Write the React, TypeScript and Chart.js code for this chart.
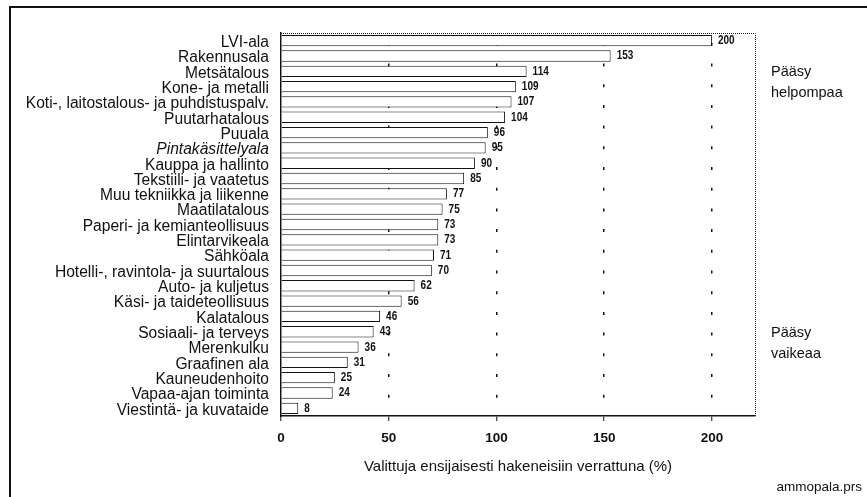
import React, { useEffect, useRef } from "react";
import { Chart, registerables } from "chart.js";

Chart.register(...registerables);

const categories = [
  "LVI-ala",
  "Rakennusala",
  "Metsätalous",
  "Kone- ja metalli",
  "Koti-, laitostalous- ja puhdistuspalv.",
  "Puutarhatalous",
  "Puuala",
  "Pintakäsittelyala",
  "Kauppa ja hallinto",
  "Tekstiili- ja vaatetus",
  "Muu tekniikka ja liikenne",
  "Maatilatalous",
  "Paperi- ja kemianteollisuus",
  "Elintarvikeala",
  "Sähköala",
  "Hotelli-, ravintola- ja suurtalous",
  "Auto- ja kuljetus",
  "Käsi- ja taideteollisuus",
  "Kalatalous",
  "Sosiaali- ja terveys",
  "Merenkulku",
  "Graafinen ala",
  "Kauneudenhoito",
  "Vapaa-ajan toiminta",
  "Viestintä- ja kuvataide",
];

const values = [
  200, 153, 114, 109, 107, 104, 96, 95, 90, 85, 77, 75, 73, 73, 71, 70, 62, 56,
  46, 43, 36, 31, 25, 24, 8,
];

const italicCategories = ["Pintakäsittelyala"];
const xTickValues = [0, 50, 100, 150, 200];
const xMin = 0;
const xMax = 220;
const noteEasy = ["Pääsy", "helpompaa"];
const noteHard = ["Pääsy", "vaikeaa"];
const axisTitle = "Valittuja ensijaisesti hakeneisiin verrattuna (%)";
const sourceNote = "ammopala.prs";

const SANS = "'Liberation Sans', Arial, sans-serif";

const decorPlugin = {
  id: "decor",
  beforeDatasetsDraw(chart: any) {
    const { ctx, chartArea } = chart;
    const { left, right, top, bottom } = chartArea;
    ctx.save();
    ctx.strokeStyle = "#222";
    ctx.lineWidth = 1;
    ctx.setLineDash([1, 1]);
    ctx.beginPath();
    ctx.moveTo(left, top + 0.5);
    ctx.lineTo(right + 0.5, top + 0.5);
    ctx.lineTo(right + 0.5, bottom);
    ctx.stroke();
    ctx.restore();
  },
  afterDatasetsDraw(chart: any) {
    const { ctx, chartArea } = chart;
    const meta = chart.getDatasetMeta(0);
    ctx.save();
    ctx.fillStyle = "#111";
    ctx.font = `bold 12.5px ${SANS}`;
    ctx.textAlign = "left";
    ctx.textBaseline = "middle";
    meta.data.forEach((bar: any, i: number) => {
      ctx.save();
      ctx.translate(bar.x + 6, bar.y);
      ctx.scale(0.8, 1);
      ctx.fillText(String(values[i]), 0, 0);
      ctx.restore();
    });

    ctx.font = `14.5px ${SANS}`;
    ctx.textBaseline = "alphabetic";
    const nx = chartArea.right + 16;
    ctx.fillText(noteEasy[0], nx, 76);
    ctx.fillText(noteEasy[1], nx, 97);
    ctx.fillText(noteHard[0], nx, 337);
    ctx.fillText(noteHard[1], nx, 358);

    ctx.font = `15px ${SANS}`;
    ctx.textAlign = "center";
    ctx.fillText(axisTitle, (chartArea.left + chartArea.right) / 2, 471);

    ctx.font = `13.5px ${SANS}`;
    ctx.textAlign = "right";
    ctx.fillText(sourceNote, 862, 491);
    ctx.restore();
  },
};

export default function App() {
  const canvasRef = useRef<HTMLCanvasElement | null>(null);

  useEffect(() => {
    if (!canvasRef.current) return;
    const chart = new Chart(canvasRef.current, {
      type: "bar",
      data: {
        labels: categories,
        datasets: [
          {
            data: values,
            backgroundColor: "#ffffff",
            borderColor: "#111111",
            borderWidth: 1,
            barPercentage: 0.74,
            categoryPercentage: 1,
          },
        ],
      },
      options: {
        indexAxis: "y",
        animation: false,
        responsive: false,
        maintainAspectRatio: false,
        devicePixelRatio: 1,
        layout: { padding: { top: 33, right: 112, left: 0, bottom: 0 } },
        plugins: {
          legend: { display: false },
          tooltip: { enabled: false },
          title: { display: false },
        },
        scales: {
          x: {
            type: "linear",
            min: xMin,
            max: xMax,
            afterBuildTicks: (scale: any) => {
              scale.ticks = xTickValues.map((v) => ({ value: v }));
            },
            afterFit: (scale: any) => {
              scale.height = 81;
            },
            border: {
              display: true,
              color: "#111",
              width: 1.5,
              dash: [3, 17.7],
              dashOffset: 10.9,
            },
            grid: {
              drawOnChartArea: true,
              color: (ctx: any) =>
                ctx.tick && ctx.tick.value === 0 ? "rgba(0,0,0,0)" : "#111",
              lineWidth: 1.5,
              tickColor: "#111",
              tickWidth: 1,
              tickLength: 5,
              tickBorderDash: [],
            },
            ticks: {
              color: "#111",
              padding: 9,
              font: { family: SANS, size: 13.5, weight: "bold" },
            },
          },
          y: {
            type: "category",
            afterFit: (scale: any) => {
              scale.width = 281;
            },
            border: { display: true, color: "#111", width: 1.5 },
            grid: { display: false },
            ticks: {
              autoSkip: false,
              color: "#111",
              padding: 4,
              labelOffset: 2,
              font: (ctx: any) => ({
                family: SANS,
                size: 15.6,
                style: italicCategories.includes(categories[ctx.index])
                  ? "italic"
                  : "normal",
              }),
            },
          },
        },
      },
      plugins: [decorPlugin],
    } as any);
    return () => chart.destroy();
  }, []);

  return (
    <div
      style={{
        position: "fixed",
        left: 0,
        top: 0,
        width: 867,
        height: 497,
        overflow: "hidden",
        background: "#fff",
      }}
    >
      <div
        style={{
          position: "absolute",
          left: 9,
          top: 6,
          width: 1000,
          height: 1000,
          borderLeft: "2px solid #111",
          borderTop: "2px solid #111",
        }}
      />
      <canvas
        ref={canvasRef}
        width={867}
        height={497}
        style={{ position: "absolute", left: 0, top: 0, width: 867, height: 497 }}
      />
    </div>
  );
}
